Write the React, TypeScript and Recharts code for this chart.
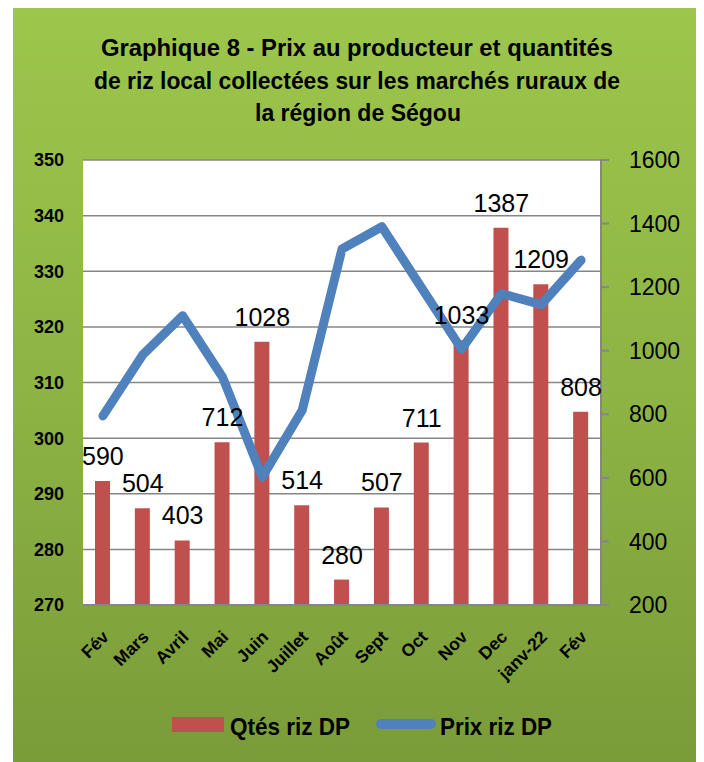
import { ComposedChart, Bar, Line, XAxis, YAxis, CartesianGrid, LabelList } from "recharts"

const months = ["Fév", "Mars", "Avril", "Mai", "Juin", "Juillet", "Août", "Sept", "Oct", "Nov", "Dec", "janv-22", "Fév"]
const qtesRiz = [590, 504, 403, 712, 1028, 514, 280, 507, 711, 1033, 1387, 1209, 808]
const prixRiz = [304, 315, 322, 311, 293, 305, 334, 338, 327, 316, 326, 324, 332]
const prixTicks = [270, 280, 290, 300, 310, 320, 330, 340, 350]
const qtesTicks = [200, 400, 600, 800, 1000, 1200, 1400, 1600]

const data = months.map((m, i) => ({ month: m, qtes: qtesRiz[i], prix: prixRiz[i] }))

const FONT = "'Liberation Sans', Arial, sans-serif"

function MonthTick({ x, y, payload }: any) {
  const tx = x + 7
  const ty = y + 31
  return (
    <text
      x={tx}
      y={ty}
      textAnchor="end"
      transform={`rotate(-45 ${tx} ${ty})`}
      fontSize={17.5}
      fontWeight="bold"
      fill="#000"
    >
      {payload.value}
    </text>
  )
}

export default function App() {
  return (
    <div
      style={{
        position: "relative",
        marginLeft: 5,
        width: 686,
        height: 760,
        fontFamily: FONT,
        background: "linear-gradient(180deg, #9dc64c 0%, #8db444 50%, #7a9b39 100%)",
      }}
    >
      <ComposedChart
        width={686}
        height={760}
        data={data}
        margin={{ top: 152, right: 18, left: 10, bottom: 93 }}
      >
        <CartesianGrid
          yAxisId="left"
          vertical={false}
          stroke="#868686"
          strokeWidth={1.5}
          fill="#ffffff"
        />
        <XAxis
          dataKey="month"
          interval={0}
          height={70}
          tickLine={false}
          tickSize={0}
          axisLine={{ stroke: "#868686", strokeWidth: 2 }}
          tick={<MonthTick />}
        />
        <YAxis
          yAxisId="left"
          orientation="left"
          width={60}
          domain={[270, 350]}
          ticks={prixTicks}
          axisLine={false}
          tickLine={false}
          tickSize={0}
          tickMargin={19}
          tick={{ fontSize: 18, fontWeight: "bold", fill: "#000" }}
        />
        <YAxis
          yAxisId="right"
          orientation="right"
          width={80}
          domain={[200, 1600]}
          ticks={qtesTicks}
          axisLine={{ stroke: "#868686", strokeWidth: 2 }}
          tickLine={{ stroke: "#868686", strokeWidth: 2 }}
          tickSize={8}
          tickMargin={20}
          tick={{ fontSize: 23, fill: "#000" }}
        />

        {/* Qtés */}
        <Bar
          yAxisId="right"
          dataKey="qtes"
          fill="#C0504D"
          barSize={15}
          isAnimationActive={false}
        />

        {/* Prix */}
        <Line
          yAxisId="left"
          type="linear"
          dataKey="prix"
          stroke="#4F81BD"
          strokeWidth={9}
          strokeLinejoin="round"
          strokeLinecap="round"
          dot={false}
          isAnimationActive={false}
        />

        {/* labels of the bars, drawn above the line */}
        <Line
          yAxisId="right"
          dataKey="qtes"
          stroke="none"
          dot={false}
          activeDot={false}
          isAnimationActive={false}
        >
          <LabelList dataKey="qtes" position="top" offset={16} fill="#000" fontSize={25} />
        </Line>
      </ComposedChart>

      <svg
        width={686}
        height={760}
        style={{ position: "absolute", left: 0, top: 0, pointerEvents: "none" }}
      >
        <g fontFamily={FONT} fontWeight="bold" fill="#000" textAnchor="middle" style={{ whiteSpace: "pre" }}>
          <text x={344} y={48} fontSize={24} textLength={512} lengthAdjust="spacingAndGlyphs">
            Graphique 8 - Prix au producteur et quantités
          </text>
          <text x={344} y={81} fontSize={24} textLength={526} lengthAdjust="spacingAndGlyphs">
            {"de riz  local collectées sur les marchés ruraux de"}
          </text>
          <text x={345} y={113} fontSize={24} textLength={206} lengthAdjust="spacingAndGlyphs">
            la région de Ségou
          </text>
        </g>

        <rect x={159} y={709} width={52} height={15} fill="#C0504D" />
        <text x={217} y={727} fontSize={24} fontWeight="bold" fill="#000" fontFamily={FONT} textLength={120} lengthAdjust="spacingAndGlyphs">
          Qtés riz DP
        </text>
        <line x1={368} y1={716} x2={418} y2={716} stroke="#4F81BD" strokeWidth={10} strokeLinecap="round" />
        <text x={427} y={727} fontSize={24} fontWeight="bold" fill="#000" fontFamily={FONT} textLength={112} lengthAdjust="spacingAndGlyphs">
          Prix riz DP
        </text>
      </svg>
    </div>
  )
}
